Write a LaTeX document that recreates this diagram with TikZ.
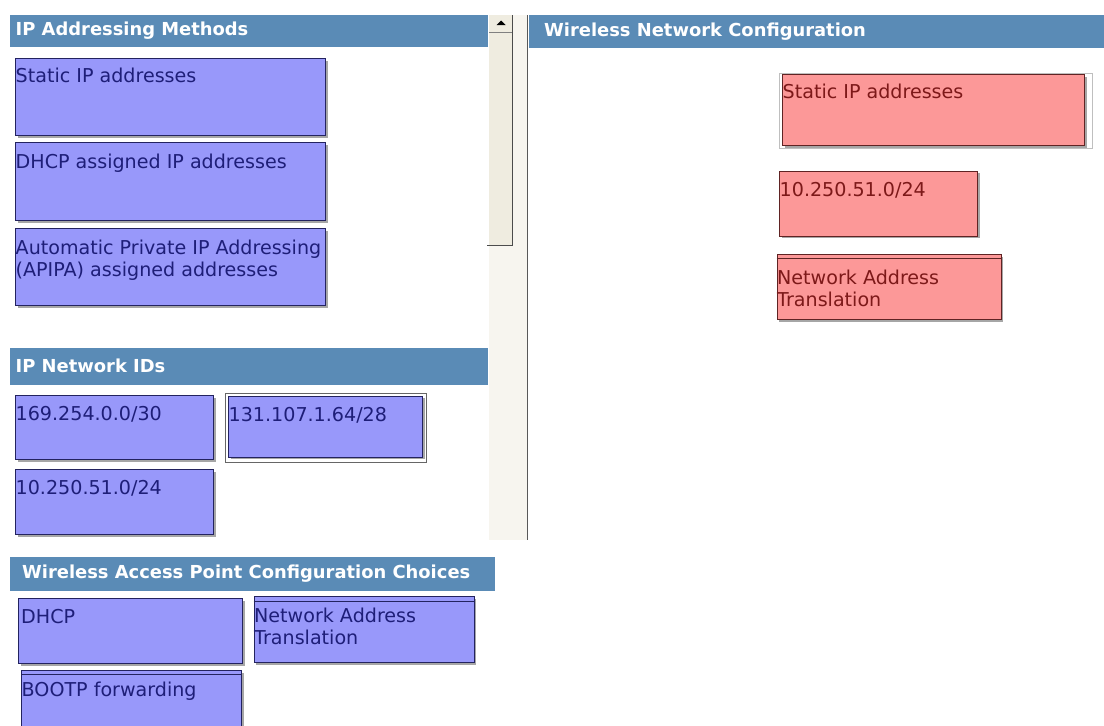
\documentclass[tikz,border=0pt]{standalone}
\usepackage{fontspec}
\setmainfont{DejaVu Sans}
\usetikzlibrary{shadows}
\definecolor{headblue}{RGB}{90,139,182}
\definecolor{itemblue}{RGB}{152,152,250}
\definecolor{itemedge}{RGB}{35,35,95}
\definecolor{itemtext}{RGB}{30,30,120}
\definecolor{droppink}{RGB}{252,152,152}
\definecolor{dropedge}{RGB}{95,35,35}
\definecolor{droptext}{RGB}{125,25,25}
\definecolor{scrollbg}{RGB}{247,245,239}
\definecolor{scrollthumb}{RGB}{239,236,224}
\newcommand\itemfont{\fontsize{19.1}{22.5}\selectfont}
\newcommand\headfont{\fontsize{17.9}{21}\selectfont\bfseries}
\tikzset{
  header/.style={anchor=north west, fill=headblue, inner sep=0pt},
  headtext/.style={anchor=base west, text=white, font=\headfont, inner sep=0pt, yshift=-4.5pt},
  choice/.style={anchor=north west, draw=itemedge, fill=itemblue, line width=1.3pt, inner sep=0pt,
    drop shadow={shadow xshift=2pt, shadow yshift=-2pt, fill=black, opacity=.35}},
  choicetext/.style={anchor=north west, text=itemtext, font=\itemfont, align=left, inner sep=0pt,
    xshift=0.5pt, yshift=-11.5pt},
  target/.style={choice, draw=dropedge, fill=droppink},
  targettext/.style={choicetext, text=droptext},
  frame/.style={draw=gray!80!black, line width=0.9pt},
}
\begin{document}
\begin{tikzpicture}[x=1pt, y=-1pt]
\useasboundingbox (0,0) rectangle (1104,726);
\fill[white] (0,0) rectangle (1104,726);

% scroll bar between the panels
\fill[scrollbg] (489,15) rectangle (528,540);
\fill[scrollthumb] (489,15) rectangle (512,245);
\draw[gray!60!black, line width=1pt] (512,15) -- (512,245) -- (487,245);
\draw[gray, line width=0.8pt] (489,32) -- (512,32);
\fill[black] (496.5,25) -- (505.5,25) -- (501,20.5) -- cycle;
\draw[gray!70!black, line width=1.2pt] (527.5,15) -- (527.5,540);

\node[header, minimum width=478pt, minimum height=32pt,
  label={[headtext, xshift=5.5pt]west:IP Addressing Methods}] (hMethods) at (10,15) {};
\node[header, minimum width=478pt, minimum height=37pt,
  label={[headtext, xshift=5.5pt, yshift=-1pt]west:IP Network IDs}] (hIDs) at (10,348) {};
\node[header, minimum width=485pt, minimum height=34pt,
  label={[headtext, xshift=12pt]west:Wireless Access Point Configuration Choices}] (hChoices) at (10,557) {};
\node[header, minimum width=576pt, minimum height=33pt,
  label={[headtext, xshift=15pt]west:Wireless Network Configuration}] (hWireless) at (529,15) {};

\node[choice, minimum width=310pt, minimum height=77pt,
  label={[choicetext, yshift=2pt]north west:Static IP addresses}] (mStatic) at (15,58) {};
\node[choice, minimum width=310pt, minimum height=78pt,
  label={[choicetext]north west:DHCP assigned IP addresses}] (mDhcp) at (15,142) {};
\node[choice, minimum width=310pt, minimum height=77pt,
  label={[choicetext]north west:{Automatic Private IP Addressing\\(APIPA) assigned addresses}}] (mApipa) at (15,228) {};

\node[choice, minimum width=198pt, minimum height=64pt,
  label={[choicetext]north west:169.254.0.0/30}] (n169) at (15,395) {};
\node[choice, minimum width=194pt, minimum height=61pt,
  label={[choicetext]north west:131.107.1.64/28}] (n131) at (228,395.5) {};
\draw[frame] ([xshift=-3pt,yshift=2.5pt]n131.north west) rectangle ([xshift=3pt,yshift=-4.5pt]n131.south east);
\node[choice, minimum width=198pt, minimum height=65pt,
  label={[choicetext]north west:10.250.51.0/24}] (n10) at (15,469) {};

\node[choice, minimum width=224pt, minimum height=65pt,
  label={[choicetext, xshift=2.5pt]north west:DHCP}] (cDhcp) at (18,598) {};
\node[choice, minimum width=220pt, minimum height=66pt,
  label={[choicetext]north west:{Network Address\\Translation}}] (cNat) at (253.5,596) {};
\draw[itemedge, line width=1pt] ([yshift=-5pt]cNat.north west) -- ([yshift=-5pt]cNat.north east);
\node[choice, minimum width=220pt, minimum height=70pt,
  label={[choicetext]north west:BOOTP forwarding}] (cBootp) at (21,670) {};
\draw[itemedge, line width=1pt] ([yshift=-4pt]cBootp.north west) -- ([yshift=-4pt]cBootp.north east);

\node[target, minimum width=302pt, minimum height=71pt,
  label={[targettext, yshift=2pt]north west:Static IP addresses}] (pStatic) at (782,74) {};
\draw[frame, gray!50] ([xshift=-3pt,yshift=1pt]pStatic.north west) rectangle ([xshift=7pt,yshift=-2.5pt]pStatic.south east);
\node[target, minimum width=198pt, minimum height=65pt,
  label={[targettext]north west:10.250.51.0/24}] (p10) at (779,170.5) {};
\node[target, minimum width=224pt, minimum height=65pt,
  label={[targettext, yshift=-4pt]north west:{Network Address\\Translation}}] (pNat) at (776.5,254) {};
\draw[dropedge, line width=1pt] ([yshift=-4pt]pNat.north west) -- ([yshift=-4pt]pNat.north east);
\end{tikzpicture}
\end{document}
